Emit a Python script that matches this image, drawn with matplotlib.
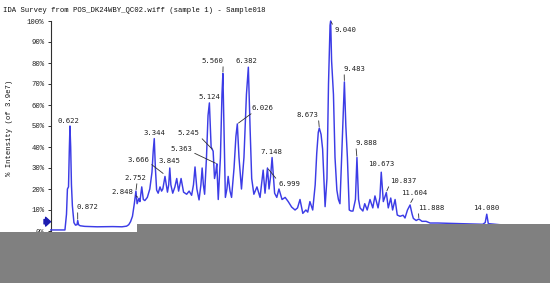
import matplotlib
matplotlib.use('Agg')
import matplotlib.pyplot as plt
from matplotlib.patches import Rectangle

# ---------------- data ----------------
times = [
    0.00, 0.46, 0.51, 0.54, 0.575, 0.60, 0.622, 0.645, 0.67, 0.70,
    0.75, 0.80, 0.85, 0.872, 0.90, 0.95, 1.10, 1.50, 2.00, 2.30,
    2.45, 2.52, 2.58, 2.64, 2.70, 2.752, 2.79, 2.848, 2.88, 2.94,
    2.99, 3.04, 3.12, 3.20, 3.27, 3.31, 3.344, 3.38, 3.42, 3.47,
    3.53, 3.58, 3.62, 3.69, 3.77, 3.81, 3.845, 3.88, 3.94, 4.01,
    4.07, 4.13, 4.21, 4.29, 4.39, 4.47, 4.55, 4.61, 4.66, 4.72,
    4.79, 4.85, 4.89, 4.93, 4.97, 5.03, 5.08, 5.124, 5.18, 5.245,
    5.29, 5.33, 5.363, 5.41, 5.48, 5.53, 5.56, 5.60, 5.64, 5.69,
    5.73, 5.79, 5.84, 5.92, 5.98, 6.026, 6.08, 6.16, 6.24, 6.32,
    6.382, 6.44, 6.49, 6.56, 6.66, 6.76, 6.86, 6.92, 6.999, 7.05,
    7.10, 7.148, 7.23, 7.30, 7.37, 7.47, 7.57, 7.67, 7.78, 7.89,
    7.97, 8.05, 8.14, 8.24, 8.30, 8.37, 8.46, 8.54, 8.59, 8.64,
    8.673, 8.73, 8.78, 8.86, 8.92, 8.97, 9.02, 9.040, 9.07, 9.13,
    9.18, 9.24, 9.29, 9.34, 9.42, 9.483, 9.53, 9.58, 9.64, 9.70,
    9.76, 9.84, 9.888, 9.94, 9.99, 10.08, 10.14, 10.22, 10.31, 10.40,
    10.47, 10.57, 10.63, 10.673, 10.74, 10.837, 10.90, 10.98, 11.04, 11.12,
    11.19, 11.28, 11.38, 11.44, 11.52, 11.604, 11.67, 11.71, 11.80, 11.888,
    11.99, 12.12, 12.25, 12.50, 13.00, 13.50, 13.95, 14.03, 14.080, 14.13,
    14.50, 15.00, 16.10,
]
intensity = [
    0.5, 0.5, 8, 20, 21, 38, 50, 40, 22, 12,
    4, 2.8, 3.0, 5.0, 3.0, 2.5, 2.2, 2.0, 2.1, 2.0,
    2.3, 3.0, 4.5, 7, 13, 19, 13, 15.5, 14, 21,
    15, 14.5, 16, 20, 28, 38, 44, 30, 19.5, 18,
    21, 19, 20, 26, 18.5, 22, 30, 22, 18, 21,
    25, 19, 25, 18.5, 17.5, 19, 17, 22, 30.5, 20,
    14.8, 22, 30, 22, 17.5, 35, 55, 61, 40, 38,
    25, 28, 32, 15, 35, 65, 75, 45, 16, 20,
    26, 19, 16, 30, 45, 51, 35, 20, 35, 65,
    78, 48, 25, 17.5, 21, 16, 29, 18, 30, 20,
    26, 35, 18, 16, 20, 15, 16, 14, 11.4, 10,
    11, 15, 8.4, 10, 9, 14, 10, 22, 37, 47,
    49, 46, 39, 11.6, 25, 70, 98, 100, 81, 65,
    35, 19.5, 15, 13, 45, 71, 50, 35, 10, 9.5,
    9.5, 15, 35, 15, 11, 9.5, 13, 10, 15, 11,
    16.7, 11, 16, 28, 14, 18.3, 11, 15.7, 10, 15,
    7.6, 7.0, 7.5, 6.2, 10, 12.4, 8, 6, 5, 5.7,
    4.6, 4.6, 3.8, 3.8, 3.6, 3.4, 3.2, 4, 8, 3.5,
    3.0, 2.8, 2.5,
]
assert len(times) == len(intensity)

peak_labels = ["0.622", "0.872", "2.752", "2.848", "3.344", "3.666", "3.845",
               "5.124", "5.245", "5.363", "5.560", "6.382", "6.026", "7.148",
               "6.999", "8.673", "9.040", "9.483", "9.888", "10.673", "10.837",
               "11.604", "11.888", "14.080"]
# intensity (%) where each label's leader points
peak_heights = [50, 5, 19, 15.7, 44, 27, 30,
                61, 38.5, 32, 75, 78, 51, 35,
                30, 49, 100, 71, 35, 28, 18.5,
                13, 5.7, 8]

y_ticks = list(range(0, 101, 10))
y_tick_labels = [f"{v}%" for v in y_ticks]

title = "IDA Survey from POS_DK24WBY_QC02.wiff (sample 1) - Sample018"
ylabel = "% Intensity (of 3.9e7)"

# ---------------- layout / style ----------------
W, H = 550, 283
X0, PXMIN = 50.7, 30.97        # pixel of t=0, pixels per minute
# label text centres (figure pixels from top-left), leader relpos, draw leader
label_style = [
    ((68, 121), None), ((87.5, 207), (0.05, 0)), ((135, 178), (0.6, 0)),
    ((122, 192), (1, 0.2)), ((154.5, 133), None), ((138, 159.5), (1, 0)),
    ((169, 161), None), ((209, 97), None), ((188.5, 133), (1, 0)),
    ((181, 149), (1, 0)), ((212.2, 61), (1, 0)), ((246.3, 61), None),
    ((262.5, 108), (0.15, 0)), ((271, 152.5), None), ((289, 184), (0, 1)),
    ((307.5, 115), (1, 0)), ((345.5, 30), (0, 0.8)), ((354, 69), (0.05, 0)),
    ((366.4, 143), (0.02, 0)), ((381, 164), None), ((403, 181), (0, 0)),
    ((414.5, 193), (0.5, 0)), ((431, 208), (0.02, 0)), ((486, 208), None),
]

mono_serif = ['Liberation Mono', 'DejaVu Sans Mono']
mono_sans = ['DejaVu Sans Mono']
FS = 5.2
line_color = '#3c3ce6'

fig = plt.figure(figsize=(W / 100, H / 100), dpi=100)
fig.patch.set_facecolor('white')
ax = fig.add_axes([X0 / W, (H - 231) / H, 1 - X0 / W, 210 / H])
ax.set_facecolor('white')

ax.plot(times, intensity, color=line_color, lw=1.05, clip_on=False, zorder=3)
ax.set_xlim(0, (W - X0) / PXMIN)
ax.set_ylim(0, 100)

for s in ['top', 'right', 'bottom']:
    ax.spines[s].set_visible(False)
ax.spines['left'].set_linewidth(0.8)
ax.spines['left'].set_color('#303030')
ax.set_xticks([])
ax.set_yticks(y_ticks)
ax.set_yticklabels(y_tick_labels, family=mono_serif, fontsize=FS, color='#202020')
ax.tick_params(axis='y', direction='out', length=2.5, width=0.7, pad=2,
               color='#303030')

fig.text(3 / W, 1 - 10 / H, title, ha='left', va='center',
         family=mono_serif, fontsize=FS, color='#101010')
fig.text(10 / W, 1 - 128 / H, ylabel, ha='center', va='center', rotation=90,
         family=mono_serif, fontsize=FS, color='#101010')

for lab, h, (pos, relpos) in zip(peak_labels, peak_heights, label_style):
    t = float(lab)
    cx, cy = pos
    kw = {}
    if relpos is not None:
        kw['arrowprops'] = dict(arrowstyle='-', lw=0.6, color='#303030',
                                shrinkA=0, shrinkB=1, relpos=relpos)
    ax.annotate(lab, xy=(t, h), xycoords='data', xytext=(cx, H - cy),
                textcoords='figure pixels', ha='center', va='center',
                fontsize=FS, family=mono_sans, color='#202020',
                annotation_clip=False, zorder=4, **kw)

# dark blue marker arrow on the axis
ax.annotate('', xy=(50.5, H - 221.7), xycoords='figure pixels',
            xytext=(44, H - 221.7), textcoords='figure pixels',
            arrowprops=dict(arrowstyle='simple,head_length=0.5,head_width=0.9,tail_width=0.45',
                            color='#1c1cb0', mutation_scale=7, shrinkA=0, shrinkB=0),
            annotation_clip=False)

# grey overlay covering the lower part
grey = '#808080'
fig.add_artist(Rectangle((0, 0), 137 / W, (H - 232) / H, transform=fig.transFigure,
                         facecolor=grey, edgecolor='none', zorder=10))
fig.add_artist(Rectangle((137 / W, 0), 1 - 137 / W, (H - 224) / H,
                         transform=fig.transFigure, facecolor=grey,
                         edgecolor='none', zorder=10))

fig.savefig('out.png', dpi=100, facecolor='white')
